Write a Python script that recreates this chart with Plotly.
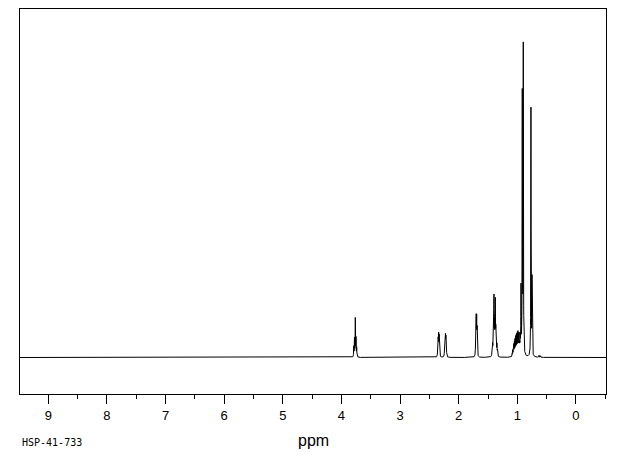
import numpy as np
import plotly.graph_objects as go

# Peak list (chemical shift in ppm, peak height in arbitrary units)
peak_ppm = [
    3.790, 3.778, 3.764, 3.752, 3.740,
    2.358, 2.350, 2.342, 2.334, 2.326,
    2.242, 2.234, 2.226, 2.218, 2.210,
    1.710, 1.702, 1.694, 1.686,
    1.432, 1.422, 1.412, 1.404, 1.399, 1.390, 1.382, 1.376, 1.368, 1.358, 1.348, 1.338,
    1.090, 1.080, 1.070, 1.060, 1.050, 1.040, 1.030, 1.020, 1.010, 1.000, 0.990, 0.980, 0.970, 0.960, 0.950,
    0.938, 0.916, 0.899,
    0.768, 0.750,
    0.630, 0.605,
]
peak_height = [
    10, 18, 38, 18, 9,
    11, 18, 20, 19, 10,
    10, 18, 19, 18, 9,
    29, 35, 35, 26,
    7, 12, 19, 25, 51, 27, 26, 49, 23, 17, 11, 6,
    3, 6, 8, 11, 13, 15, 17, 18, 19, 20, 21, 20, 19, 18, 16,
    66, 258, 307,
    248, 76,
    2, 1.5,
]
line_width_ppm = 0.003

tick_vals = [9, 8, 7, 6, 5, 4, 3, 2, 1, 0]
tick_text = ["9", "8", "7", "6", "5", "4", "3", "2", "1", "0"]
x_range = [9.483, -0.512]
y_range = [-36.5, 348.5]
sample_id = "HSP-41-733"
x_title = "ppm"

# Sum of Lorentzian lines evaluated on a fine grid that includes each line centre
grid = np.concatenate([np.arange(x_range[1], x_range[0], 0.001), np.array(peak_ppm)])
grid = np.sort(grid)[::-1]
w2 = line_width_ppm ** 2
intensity = np.zeros_like(grid)
for p, h in zip(peak_ppm, peak_height):
    intensity += h * w2 / (w2 + (grid - p) ** 2)

fig = go.Figure()
fig.add_trace(go.Scatter(x=grid, y=intensity, mode="lines",
                         line=dict(color="black", width=1), hoverinfo="skip",
                         showlegend=False))

# page body has an 8px margin, so the figure is sized/offset to compensate
fig.update_layout(
    width=612, height=447,
    margin=dict(l=12, r=14, t=1, b=61),
    paper_bgcolor="white", plot_bgcolor="white",
    font=dict(family="Liberation Sans", color="black"),
    showlegend=False,
    xaxis=dict(range=x_range, tickvals=tick_vals, ticktext=tick_text,
               ticks="outside", ticklen=9, tickwidth=1, tickcolor="black",
               showline=True, linecolor="black", linewidth=1, mirror=True,
               showgrid=False, zeroline=False,
               tickfont=dict(family="Liberation Sans", size=13, color="black"),
               minor=dict(dtick=0.5, tick0=0, ticks="outside", ticklen=4,
                          tickwidth=1, tickcolor="black", showgrid=False)),
    yaxis=dict(range=y_range, showticklabels=False, ticks="",
               showline=True, linecolor="black", linewidth=1, mirror=True,
               showgrid=False, zeroline=False),
    annotations=[
        dict(text=x_title, xref="paper", yref="paper", x=0.5, y=(394 - 440) / 385,
             xanchor="center", yanchor="middle", showarrow=False,
             font=dict(family="Liberation Sans", size=16, color="black")),
        dict(text=sample_id, xref="paper", yref="paper", x=0, y=(394 - 442) / 385,
             xanchor="left", yanchor="middle", showarrow=False,
             font=dict(family="DejaVu Sans Mono", size=10, color="black")),
    ],
)

fig.write_html("out.html")
